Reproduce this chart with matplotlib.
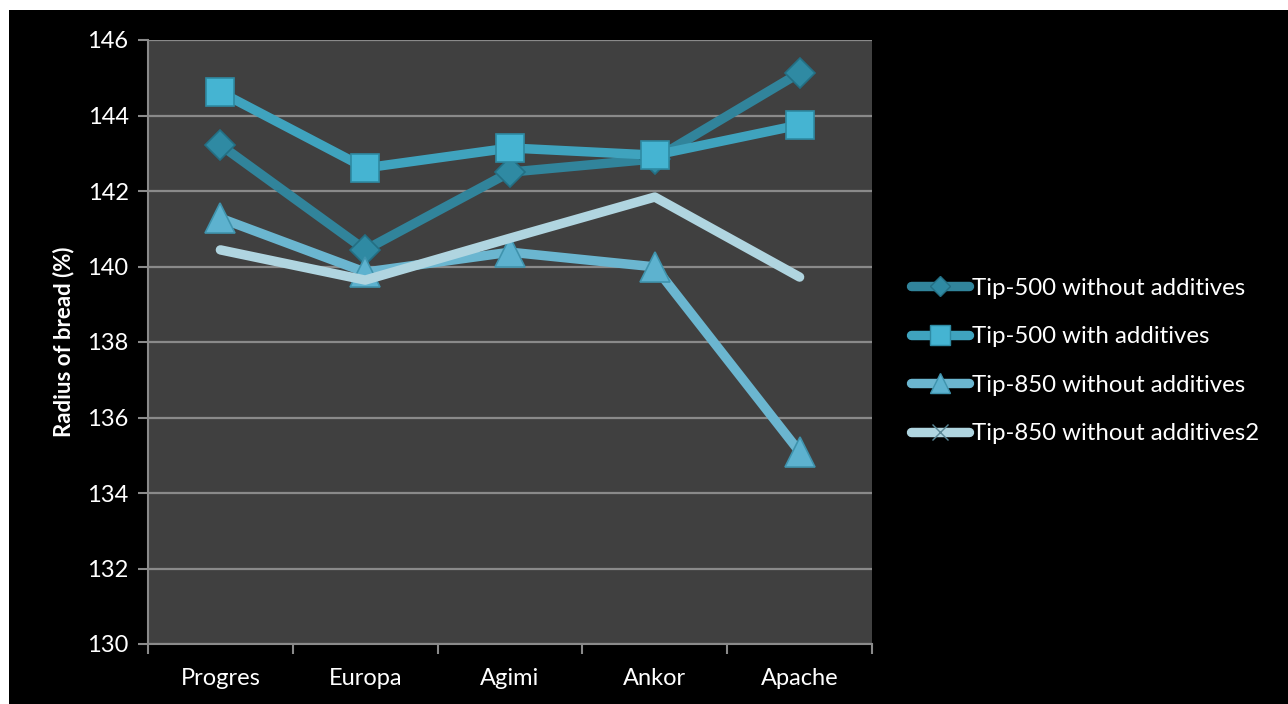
import matplotlib
matplotlib.use("Agg")
import matplotlib.pyplot as plt
from matplotlib.patches import Rectangle

categories = ["Progres", "Europa", "Agimi", "Ankor", "Apache"]
tip500_without = [143.22, 140.44, 142.50, 142.85, 145.13]
tip500_with = [144.62, 142.61, 143.14, 142.95, 143.75]
tip850_without = [141.28, 139.85, 140.38, 139.99, 135.09]
tip850_without2 = [140.44, 139.64, 140.75, 141.84, 139.72]
series_names = ["Tip-500 without additives", "Tip-500 with additives",
                "Tip-850 without additives", "Tip-850 without additives2"]
yticks = [130, 132, 134, 136, 138, 140, 142, 144, 146]

plt.rcParams['font.family'] = ['Lato', 'DejaVu Sans']

fig = plt.figure(figsize=(12.88, 7.04), dpi=100)
fig.patch.set_facecolor("white")
fig.patches.append(Rectangle((9/1288, 0), 1, 1 - 10/704, transform=fig.transFigure,
                             facecolor="black", edgecolor="none", zorder=-10))

ax = fig.add_axes([148/1288, 60/704, (872-148)/1288, (644-40)/704])
ax.set_facecolor("#404040")

x = list(range(len(categories)))
grid_c = "#8a8a8a"

styles = [
    dict(data=tip500_without, color="#31849B", marker="D", ms=15, mfc="#2f8aa3", mec="#236f84"),
    dict(data=tip500_with, color="#3FA3BE", marker="s", ms=20, mfc="#45B4D2", mec="#2e8aa3"),
    dict(data=tip850_without, color="#6BB6D0", marker="^", ms=21, mfc="#5db2cf", mec="#3f93ad"),
    dict(data=tip850_without2, color="#B0D5E0", marker="x", ms=0, mfc="#B0D5E0", mec="#5a8796"),
]
for name, st in zip(series_names, styles):
    ax.plot(x, st["data"], color=st["color"], lw=6.8, marker=st["marker"],
            ms=st["ms"], mfc=st["mfc"], mec=st["mec"], mew=1.2,
            solid_capstyle="round", solid_joinstyle="round", label=name, zorder=3)

ax.set_xlim(-0.5, 4.5)
ax.set_ylim(130, 146)
ax.set_yticks(yticks)
ax.set_yticklabels([str(v) for v in yticks])
ax.yaxis.grid(True, color=grid_c, lw=1.6)
ax.set_axisbelow(True)

ax.set_xticks([i - 0.5 for i in range(len(categories) + 1)])
ax.set_xticklabels([])
ax.set_xticks(x, minor=True)
ax.set_xticklabels(categories, minor=True)
ax.tick_params(axis="x", which="major", direction="out", length=7, width=1.5, color=grid_c)
ax.tick_params(axis="x", which="minor", length=0, pad=17, labelsize=17, labelcolor="white")
ax.tick_params(axis="y", direction="out", length=7, width=1.5, color=grid_c,
               labelsize=17, labelcolor="white", pad=7)
for s in ["top", "right"]:
    ax.spines[s].set_visible(False)
for s in ["left", "bottom"]:
    ax.spines[s].set_color(grid_c)
    ax.spines[s].set_linewidth(1.5)

ax.set_ylabel("Radius of bread (%)", color="white", fontsize=16, fontweight="bold", labelpad=9)

leg_handles = []
for st in styles:
    h, = ax.plot([], [], color=st["color"], lw=6.8, marker=st["marker"],
                 ms=(st["ms"] * 0.7 if st["ms"] else 12), mfc=st["mfc"], mec=st["mec"],
                 solid_capstyle="round")
    leg_handles.append(h)
fig.legend(leg_handles, series_names, loc="center left",
           bbox_to_anchor=(889/1288, 1 - 361/704), frameon=False,
           fontsize=17.3, labelcolor="white", handlelength=2.45, handletextpad=0.1,
           labelspacing=1.15)

fig.savefig("out.png", dpi=100, facecolor=fig.get_facecolor())
